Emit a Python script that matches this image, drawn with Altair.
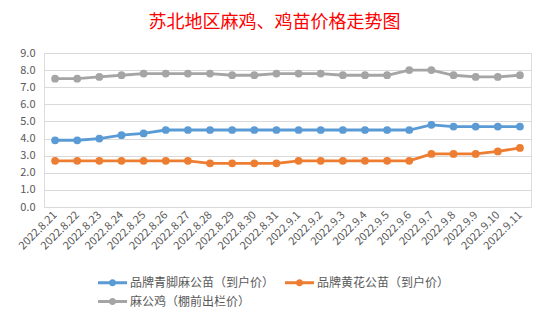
import altair as alt
import pandas as pd

dates = ["2022.8.21", "2022.8.22", "2022.8.23", "2022.8.24", "2022.8.25", "2022.8.26",
         "2022.8.27", "2022.8.28", "2022.8.29", "2022.8.30", "2022.8.31", "2022.9.1",
         "2022.9.2", "2022.9.3", "2022.9.4", "2022.9.5", "2022.9.6", "2022.9.7",
         "2022.9.8", "2022.9.9", "2022.9.10", "2022.9.11"]
series_names = ["品牌青脚麻公苗（到户价）", "品牌黄花公苗（到户价）", "麻公鸡（棚前出栏价）"]
qingjiao = [3.9, 3.9, 4.0, 4.2, 4.3, 4.5, 4.5, 4.5, 4.5, 4.5, 4.5, 4.5,
            4.5, 4.5, 4.5, 4.5, 4.5, 4.8, 4.7, 4.7, 4.7, 4.7]
huanghua = [2.7, 2.7, 2.7, 2.7, 2.7, 2.7, 2.7, 2.55, 2.55, 2.55, 2.55, 2.7,
            2.7, 2.7, 2.7, 2.7, 2.7, 3.1, 3.1, 3.1, 3.25, 3.45]
magongji = [7.5, 7.5, 7.6, 7.7, 7.8, 7.8, 7.8, 7.8, 7.7, 7.7, 7.8, 7.8,
            7.8, 7.7, 7.7, 7.7, 8.0, 8.0, 7.7, 7.6, 7.6, 7.7]
colors = ["#5B9BD5", "#ED7D31", "#A5A5A5"]

rows = []
for name, vals in zip(series_names, [qingjiao, huanghua, magongji]):
    for i, (d, v) in enumerate(zip(dates, vals)):
        rows.append({"date": d, "series": name, "value": v, "order": series_names.index(name)})
df = pd.DataFrame(rows)

FONT = "Noto Sans CJK SC"
legend_symbol = ("M-2,-0.2L2,-0.2L2,0.2L-2,0.2Z "
                 "M-0.5,0A0.5,0.5 0 1,1 0.5,0A0.5,0.5 0 1,1 -0.5,0Z")

x = alt.X("date:N", sort=dates,
          scale=alt.Scale(type="point", padding=0.5),
          axis=alt.Axis(title=None, labelAngle=-45, labelFontSize=11, labelColor="#595959",
                        labelFont=FONT, ticks=False, domainColor="#D9D9D9", labelPadding=6,
                        labelAlign="right", labelBaseline="middle"))
y = alt.Y("value:Q",
          scale=alt.Scale(domain=[0, 9], nice=False),
          axis=alt.Axis(title=None, values=list(range(0, 10)), format=".1f",
                        labelFontSize=11, labelColor="#595959", labelFont=FONT,
                        ticks=False, domain=False, gridColor="#D9D9D9", labelPadding=9))
color = alt.Color("series:N",
                  scale=alt.Scale(domain=series_names, range=colors),
                  legend=alt.Legend(title=None, orient="none", legendX=61, legendY=222,
                                    direction="horizontal",
                                    columns=2, symbolType=legend_symbol, symbolSize=210,
                                    symbolStrokeWidth=0, symbolOpacity=1,
                                    labelFontSize=12, labelColor="#595959", labelFont=FONT,
                                    labelOffset=10, columnPadding=10, rowPadding=5))

base = alt.Chart(df).encode(x=x, y=y, color=color, order="order:Q")
lines = base.mark_line(strokeWidth=2.8)
points = base.mark_point(filled=True, size=60, opacity=1)

chart = alt.layer(lines, points).properties(
    width=487, height=154,
    title=alt.TitleParams("苏北地区麻鸡、鸡苗价格走势图", color="#FF0000", fontSize=18,
                          font=FONT, fontWeight="normal", anchor="middle", dx=-13, offset=15),
    padding={"left": 44, "top": 53, "right": 18, "bottom": 115},
    autosize=alt.AutoSizeParams(type="none"),
).configure_view(stroke=None).configure(background="white")

chart.save("out.html", embed_options={"renderer": "svg", "actions": False})
